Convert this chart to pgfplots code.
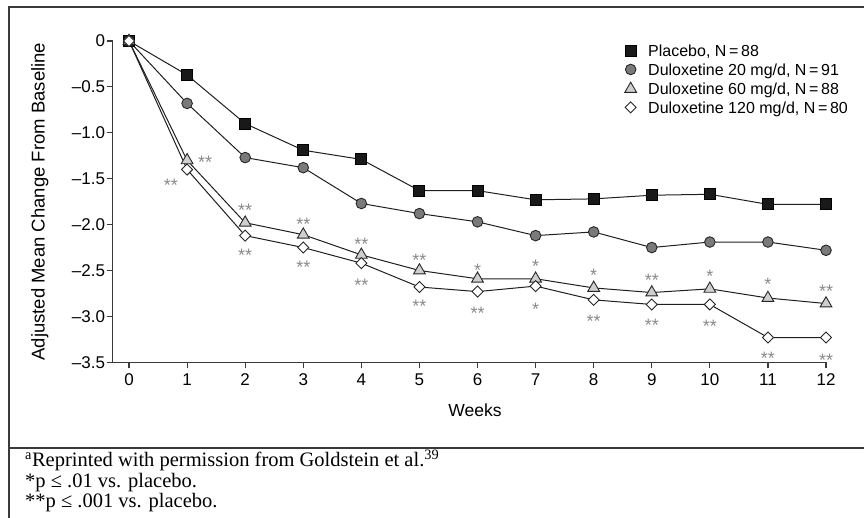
\documentclass[border=0pt]{standalone}
\usepackage{pgfplots}
\pgfplotsset{compat=1.18}
\usepackage{fontspec}
\setmainfont{Liberation Sans}
\newfontfamily\timesfont{Liberation Serif}
\definecolor{c20}{HTML}{7A7A7A}
\definecolor{c60}{HTML}{CFCFCF}
\definecolor{astc}{HTML}{8A8A8A}
\definecolor{framec}{HTML}{3A3A3A}
\tikzset{astk/.style={astc, anchor=base, yshift=-10.3pt, inner sep=0pt, font=\fontsize{18}{18}\selectfont}}
\begin{document}
\begin{tikzpicture}
\path[use as bounding box] (0pt,0pt) rectangle (864pt,518pt);
\draw[framec, line width=1.5pt] (9pt,0pt) -- (9pt,511pt) -- (864pt,511pt);
\draw[framec, line width=1.5pt] (9pt,70pt) -- (864pt,70pt);
\node[anchor=base west, inner sep=0pt, font=\timesfont\fontsize{20.5}{24}\selectfont] at (25pt,51pt) {\textsuperscript{a}Reprinted with permission from Goldstein et al.\textsuperscript{39}};
\node[anchor=base west, inner sep=0pt, font=\timesfont\fontsize{20.5}{24}\selectfont] at (25pt,30.5pt) {*p ≤ .01 vs. placebo.};
\node[anchor=base west, inner sep=0pt, font=\timesfont\fontsize{20.5}{24}\selectfont] at (25pt,10pt) {**p ≤ .001 vs. placebo.};
\begin{axis}[
  at={(112.7pt,155.7pt)}, anchor=south west, scale only axis,
  width=713.3pt, height=321.3pt,
  xmin=-0.281, xmax=12, ymin=-3.5, ymax=0, clip=false,
  axis x line*=bottom, axis y line*=left,
  tick align=outside, major tick length=6pt,
  axis line style={framec, line width=1.2pt, -},
  tick style={framec, line width=1.2pt},
  xtick={0,1,2,3,4,5,6,7,8,9,10,11,12},
  xticklabels={0,1,2,3,4,5,6,7,8,9,10,11,12},
  ytick={-3.5,-3,-2.5,-2,-1.5,-1,-0.5,0},
  yticklabels={\textendash3.5,\textendash3.0,\textendash2.5,\textendash2.0,\textendash1.5,\textendash1.0,\textendash0.5,0},
  ticklabel style={font=\fontsize{17}{20}\selectfont},
  yticklabel style={inner sep=1.5pt},
  xticklabel style={yshift=-2pt},
  xlabel={Weeks}, ylabel={Adjusted Mean Change From Baseline},
  label style={font=\fontsize{18.5}{20}\selectfont},
  xlabel style={at={(axis description cs:0.508,-0.148)}, anchor=center, font=\fontsize{17.5}{20}\selectfont},
  ylabel style={at={(axis description cs:-0.1023,0.5)}, anchor=center},
  legend style={at={(axis description cs:0.7168,0.987)}, anchor=north west, draw=none, fill=none, inner sep=0pt,
     font=\fontsize{16}{18}\selectfont, row sep=3.4pt,
     nodes={inner sep=0pt, text height=11.5pt, text depth=3.5pt, anchor=base west}},
  legend cell align=left,
  legend image code/.code={\draw[#1] plot[only marks] coordinates {(6pt,5.8pt)}; \path (0pt,0pt) (23pt,0pt);},
]
\addplot[line width=1pt, color=black!88, mark=square*, mark size=5.5pt, mark options={fill=black!90, draw=black, line width=0.9pt}]
 coordinates {(0,0) (1,-0.37) (2,-0.90) (3,-1.19) (4,-1.29) (5,-1.63) (6,-1.63) (7,-1.73) (8,-1.72) (9,-1.68) (10,-1.67) (11,-1.78) (12,-1.78)};
\addlegendentry{Placebo, N\,=\,88}
\addplot[line width=1pt, color=black!88, mark=*, mark size=5.3pt, mark options={fill=c20, draw=black!85, line width=0.9pt}]
 coordinates {(0,0) (1,-0.68) (2,-1.27) (3,-1.38) (4,-1.77) (5,-1.88) (6,-1.97) (7,-2.12) (8,-2.08) (9,-2.25) (10,-2.19) (11,-2.19) (12,-2.28)};
\addlegendentry{Duloxetine 20 mg/d, N\,=\,91}
\addplot[line width=1pt, color=black!88, mark=triangle*, mark size=6.8pt, mark options={fill=c60, draw=black!85, line width=0.9pt}]
 coordinates {(0,0) (1,-1.30) (2,-1.98) (3,-2.11) (4,-2.33) (5,-2.50) (6,-2.59) (7,-2.59) (8,-2.69) (9,-2.74) (10,-2.70) (11,-2.80) (12,-2.86)};
\addlegendentry{Duloxetine 60 mg/d, N\,=\,88}
\addplot[line width=1pt, color=black!88, mark=square*, mark size=3.9pt, mark options={fill=white, draw=black!85, line width=0.9pt, rotate=45}]
 coordinates {(0,0) (1,-1.40) (2,-2.12) (3,-2.25) (4,-2.42) (5,-2.68) (6,-2.73) (7,-2.67) (8,-2.82) (9,-2.87) (10,-2.87) (11,-3.23) (12,-3.23)};
\addlegendentry{Duloxetine 120 mg/d, N\,=\,80}
% significance markers
\node[astk] at (axis cs:1.31,-1.274) {**};
\node[astk] at (axis cs:0.72,-1.525) {**};
\node[astk] at (axis cs:2,-1.797) {**};
\node[astk] at (axis cs:2,-2.288) {**};
\node[astk] at (axis cs:3,-1.95) {**};
\node[astk] at (axis cs:3,-2.418) {**};
\node[astk] at (axis cs:4,-2.168) {**};
\node[astk] at (axis cs:4,-2.614) {**};
\node[astk] at (axis cs:5,-2.342) {**};
\node[astk] at (axis cs:5,-2.843) {**};
\node[astk] at (axis cs:6,-2.451) {*};
\node[astk] at (axis cs:6,-2.919) {**};
\node[astk] at (axis cs:7,-2.407) {*};
\node[astk] at (axis cs:7,-2.876) {*};
\node[astk] at (axis cs:8,-2.505) {*};
\node[astk] at (axis cs:8,-3.006) {**};
\node[astk] at (axis cs:9,-2.56) {**};
\node[astk] at (axis cs:9,-3.05) {**};
\node[astk] at (axis cs:10,-2.516) {*};
\node[astk] at (axis cs:10,-3.061) {**};
\node[astk] at (axis cs:11,-2.603) {*};
\node[astk] at (axis cs:11,-3.41) {**};
\node[astk] at (axis cs:12,-2.68) {**};
\node[astk] at (axis cs:12,-3.431) {**};
\end{axis}
\end{tikzpicture}
\end{document}
